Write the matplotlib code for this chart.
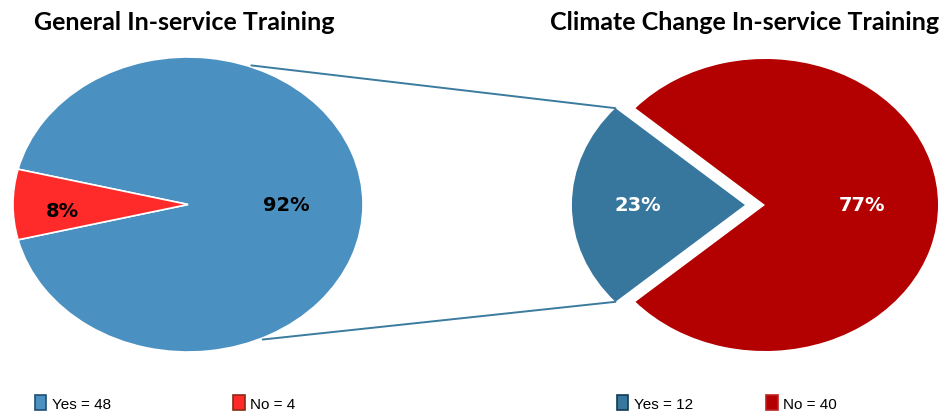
import numpy as np
import matplotlib
matplotlib.use("Agg")
import matplotlib.pyplot as plt
from matplotlib.patches import ConnectionPatch, Patch
from matplotlib import font_manager

# in-service training responses (counts)
general_labels = ["Yes", "No"]
general_counts = [48, 4]
climate_labels = ["Yes", "No"]
climate_counts = [12, 40]

general_colors = ["#4A90C0", "#FF2A2A"]
general_edges = ["#1F4E70", "#8A2A10"]
climate_colors = ["#37769D", "#B30000"]
climate_edges = ["#123A55", "#C02020"]
line_color = "#3B7B9E"

W, H = 949, 414
fig = plt.figure(figsize=(W / 100, H / 100), dpi=100)


def px_axes(left, top, width, height):
    # axes placed in pixel coords (origin top-left)
    return fig.add_axes([left / W, (H - top - height) / H, width / W, height / H])


names = {f.name for f in font_manager.fontManager.ttflist}
title_font = "Lato" if "Lato" in names else "DejaVu Sans"
legend_font = ["Liberation Sans Narrow", "Liberation Sans"] if "Liberation Sans Narrow" in names else ["Liberation Sans"]


def pct(counts):
    tot = float(sum(counts))
    return [100.0 * c / tot for c in counts]


# ---- left pie: general training ----
ax1 = px_axes(13, 58, 350, 295)
half = 360.0 * general_counts[1] / sum(general_counts) / 2
ax1.pie(general_counts, colors=general_colors, startangle=180 + half - 360,
        radius=1, wedgeprops=dict(edgecolor="white", linewidth=1.2))
ax1.set_aspect("auto")
ax1.set_xlim(-1, 1)
ax1.set_ylim(-1, 1)
ax1.axis("off")
p1 = pct(general_counts)
ax1.text(0.56, 0, f"{p1[0]:.0f}%", ha="center", va="center", fontsize=14,
         fontweight="bold", color="black", family="DejaVu Sans")
ax1.text(-0.72, -0.04, f"{p1[1]:.0f}%", ha="center", va="center", fontsize=14,
         fontweight="bold", color="black", family="DejaVu Sans")

# ---- right pie: climate change training, "Yes" pulled out ----
rx, ry = 173, 146
cx, cy = 765, 206
ax2 = px_axes(cx - 1.25 * rx, cy - ry, 2.25 * rx, 2 * ry)
yes_share = climate_counts[0] / sum(climate_counts)
expl = 0.116
ax2.pie(climate_counts, colors=climate_colors, startangle=180 - 180 * yes_share,
        radius=1, explode=[expl, 0])
ax2.set_aspect("auto")
ax2.set_xlim(-1.25, 1)
ax2.set_ylim(-1, 1)
ax2.axis("off")
p2 = pct(climate_counts)
ax2.text(-expl - 0.62, 0, f"{p2[0]:.0f}%", ha="center", va="center", fontsize=14,
         fontweight="bold", color="white", family="DejaVu Sans")
ax2.text(0.56, 0, f"{p2[1]:.0f}%", ha="center", va="center", fontsize=14,
         fontweight="bold", color="white", family="DejaVu Sans")

# connector lines from the big pie to the exploded slice
a_half = np.radians(180 * yes_share)
for a_deg, sgn in [(69, 1), (-65, -1)]:
    a = np.radians(a_deg)
    xyA = (np.cos(a) * 1.01, np.sin(a) * 1.01)
    xyB = (-expl + np.cos(np.pi - a_half), sgn * np.sin(np.pi - a_half))
    con = ConnectionPatch(xyA=xyA, coordsA=ax1.transData, xyB=xyB, coordsB=ax2.transData,
                          color=line_color, linewidth=1.4)
    fig.add_artist(con)

# titles
fig.text(184 / W, 1 - 22 / H, "General In-service Training", ha="center", va="center",
         fontsize=18, fontweight="bold", family=title_font)
fig.text(745 / W, 1 - 22 / H, "Climate Change In-service Training", ha="center", va="center",
         fontsize=18, fontweight="bold", family=title_font)


# legends
def add_legend(x0, labels, counts, colors, edges, spacing):
    handles = [Patch(facecolor=c, edgecolor=e, linewidth=1.2) for c, e in zip(colors, edges)]
    texts = [f"{l} = {n}" for l, n in zip(labels, counts)]
    fig.legend(handles, texts, loc="center left", bbox_to_anchor=(x0 / W, 1 - 404 / H),
               ncol=2, frameon=False, handlelength=0.75, handleheight=1.05, handletextpad=0.35,
               columnspacing=spacing, borderaxespad=0, borderpad=0,
               prop={"family": legend_font, "size": 11})


add_legend(35, general_labels, general_counts, general_colors, general_edges, 8.0)
add_legend(617, climate_labels, climate_counts, climate_colors, climate_edges, 4.8)

fig.savefig("out.png", dpi=100)
